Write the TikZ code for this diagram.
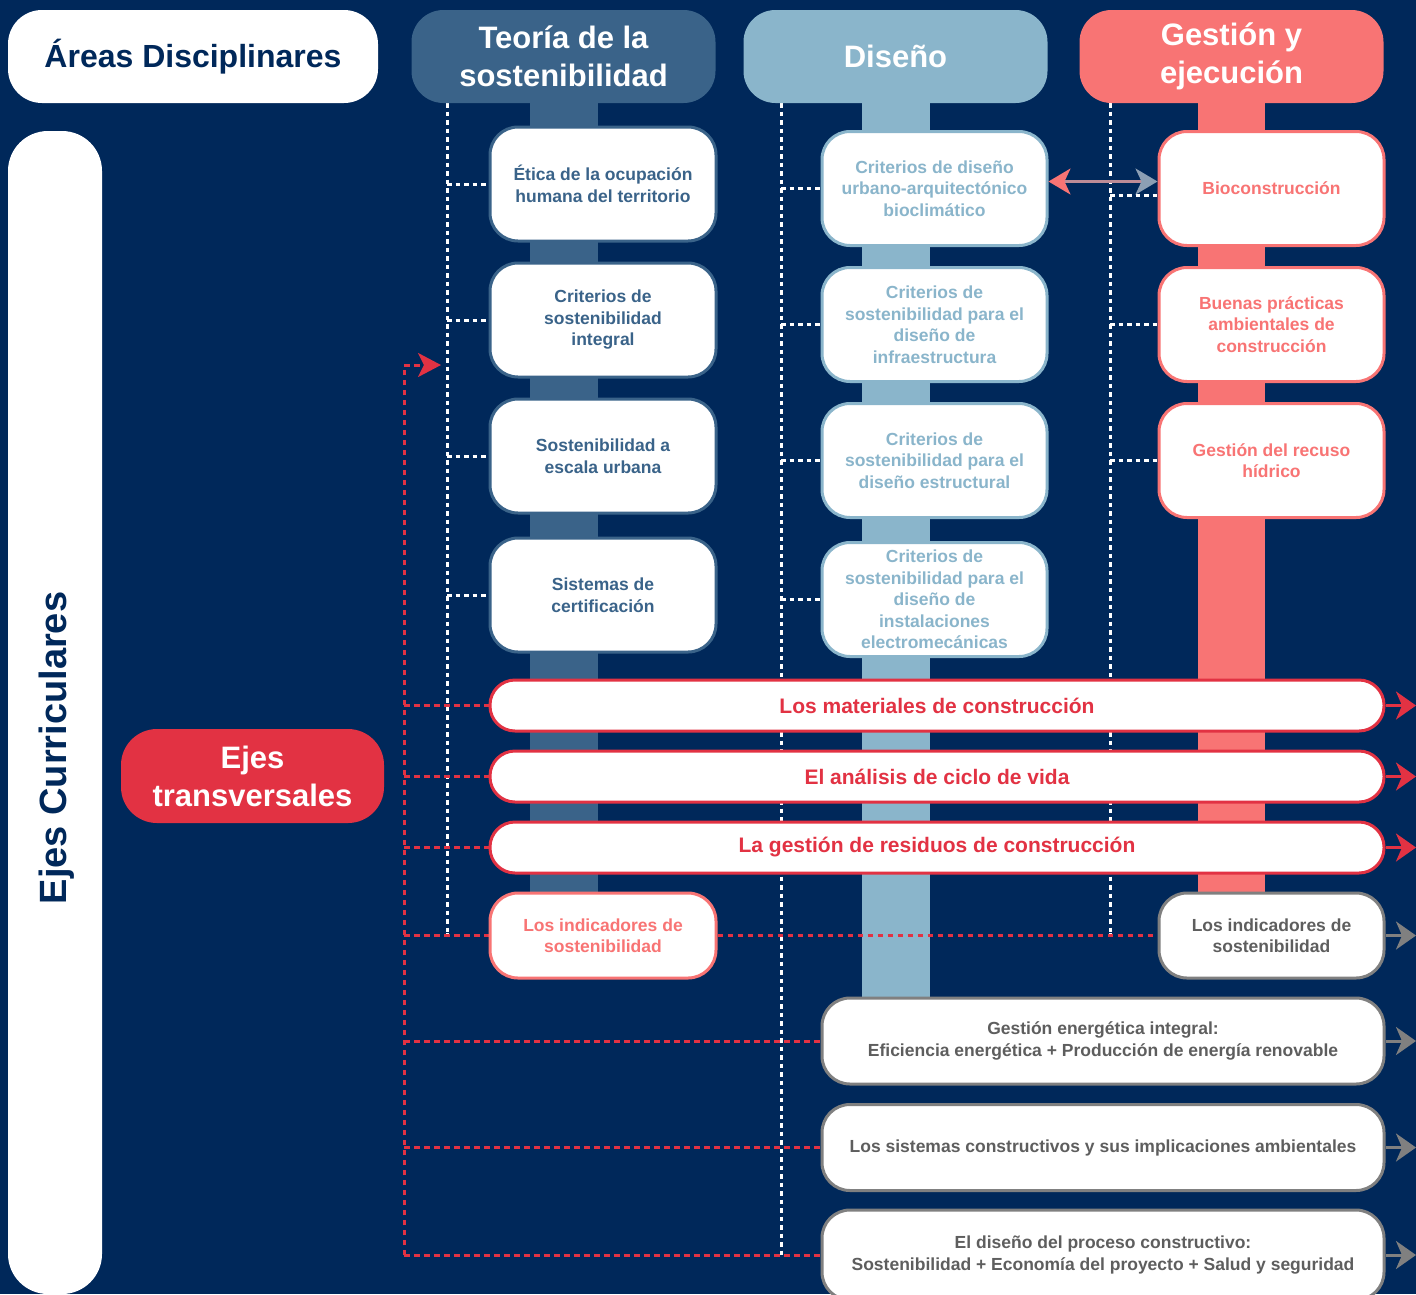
\documentclass[tikz,border=0pt]{standalone}
\usepackage{fontspec}
\setmainfont{Liberation Sans}
\usetikzlibrary{arrows.meta}

\definecolor{navy}{HTML}{00285A}
\definecolor{teocol}{HTML}{3A6389}
\definecolor{discol}{HTML}{8AB5CB}
\definecolor{gescol}{HTML}{F87474}
\definecolor{transred}{HTML}{E23243}
\definecolor{grisbox}{HTML}{808080}
\definecolor{gristxt}{HTML}{5E5E5E}
\definecolor{arrowblue}{HTML}{8C9FB4}

\pgfdeclarelayer{bg}
\pgfsetlayers{bg,main}

\tikzset{
  header/.style={rounded corners=32pt, minimum width=304pt, minimum height=93pt, align=center,
    text=white, font=\fontsize{31}{38}\selectfont\bfseries},
  card/.style={draw, line width=3pt, fill=white, rounded corners=28pt, minimum width=225pt,
    minimum height=114pt, inner sep=2pt, align=center, font=\fontsize{17.5}{21.5}\selectfont\bfseries},
  bar/.style={draw=transred, line width=3pt, fill=white, rounded corners=25pt, minimum width=894pt,
    minimum height=51pt, text=transred, font=\fontsize{21}{25}\selectfont\bfseries},
  graybox/.style={card, draw=grisbox, text=gristxt, minimum width=562pt, minimum height=86pt},
  dotline/.style={white, line width=3pt, dash pattern=on 4.5pt off 4pt},
  reddash/.style={transred, line width=3pt, dash pattern=on 5.5pt off 4.5pt},
  outarrow/.style={line width=3pt, -{Stealth[length=20pt,width=28pt,inset=6pt]}},
}

\begin{document}
\begin{tikzpicture}[x=1pt, y=-1pt]
\useasboundingbox (0,0) rectangle (1416,1294);

% Areas and headers
\node[fill=white, rounded corners=34pt, minimum width=370pt, minimum height=93pt, text=navy,
  font=\fontsize{32}{38}\selectfont\bfseries] (areas) at (193,56.5) {Áreas Disciplinares};
\node[header, fill=teocol] (teo) at (563.5,56.5) {Teoría de la\\sostenibilidad};
\node[header, fill=discol] (dis) at (895.5,56.5) {Diseño};
\node[header, fill=gescol] (ges) at (1231.5,56.5) {Gestión y\\ejecución};

% Ejes
\node[fill=white, rounded corners=40pt, minimum width=94pt, minimum height=1163pt] (ejesbar) at (55,712.5) {};
\node[rotate=90, text=navy, font=\fontsize{38}{44}\selectfont\bfseries] (ejescur) at (57,748) {Ejes Curriculares};
\node[fill=transred, rounded corners=36pt, minimum width=263pt, minimum height=94pt, text=white,
  align=center, font=\fontsize{31}{38}\selectfont\bfseries] (ejestr) at (252.5,776) {Ejes\\transversales};

% Teoria column
\foreach \n/\y/\txt in {t1/184/{Ética de la ocupación\\humana del territorio},
    t2/320/{Criterios de\\sostenibilidad\\integral},
    t3/456/{Sostenibilidad a\\escala urbana},
    t4/595/{Sistemas de\\certificación}}
  \node[card, draw=teocol, text=teocol, minimum width=226pt] (\n) at (603,\y) {\txt};

% Diseno column
\foreach \n/\y/\txt in {d1/188.5/{Criterios de diseño\\urbano-arquitectónico\\bioclimático},
    d2/324.5/{Criterios de\\sostenibilidad para el\\diseño de\\infraestructura},
    d3/460.5/{Criterios de\\sostenibilidad para el\\diseño estructural},
    d4/599.5/{Criterios de\\sostenibilidad para el\\diseño de\\instalaciones\\electromecánicas}}
  \node[card, draw=discol, text=discol] (\n) at (934.5,\y) {\txt};

% Gestion column
\foreach \n/\y/\txt in {g1/188.5/{Bioconstrucción},
    g2/324.5/{Buenas prácticas\\ambientales de\\construcción},
    g3/460.5/{Gestión del recuso\\hídrico}}
  \node[card, draw=gescol, text=gescol] (\n) at (1271.5,\y) {\txt};

% Transversal bars
\node[bar] (b1) at (937,705.5) {Los materiales de construcción};
\node[bar] (b2) at (937,776.5) {El análisis de ciclo de vida};
\node[bar] (b3) at (937,847.5) {La gestión de residuos de construcción};

% Indicators and lower boxes
\node[card, draw=gescol, text=gescol, minimum width=226pt, minimum height=85pt] (il) at (603,935.5) {Los indicadores de\\sostenibilidad};
\node[card, draw=grisbox, text=gristxt, minimum height=85pt] (ir) at (1271.5,935.5) {Los indicadores de\\sostenibilidad};
\node[graybox] (gb1) at (1103,1041) {Gestión energética integral:\\Eficiencia energética + Producción de energía renovable};
\node[graybox] (gb2) at (1103,1147.5) {Los sistemas constructivos y sus implicaciones ambientales};
\node[graybox, minimum height=90pt] (gb3) at (1103,1255) {El diseño del proceso constructivo:\\Sostenibilidad + Economía del proyecto + Salud y seguridad};

\coordinate (teotop) at (447,103);
\coordinate (distop) at (781,103);
\coordinate (gestop) at (1110,103);
\coordinate (rtop) at (404,365);
\coordinate (rtip) at (441,365);
\coordinate (redge) at (1416,0);

\begin{pgfonlayer}{bg}
% Background and stems
\fill[navy] (0,0) rectangle (1416,1294);
\fill[teocol] (530,100) rectangle (598,893);
\fill[discol] (862,100) rectangle (930,998);
\fill[gescol] (1198,100) rectangle (1265,893);

% Dotted trunks
\draw[dotline] (teotop) -- (teotop |- il.east) -- ++(0,-3);
\draw[dotline] (distop) -- (distop |- gb3.west);
\draw[dotline] (gestop) -- (gestop |- ir.west) -- ++(0,-3);
\foreach \n in {t1,t2,t3,t4}
  \draw[dotline] (\n.west -| teotop) -- (\n.west);
\foreach \n in {d1,d2,d3,d4}
  \draw[dotline] (\n.west -| distop) -- (\n.west);
\foreach \n in {g2,g3}
  \draw[dotline] (\n.west -| gestop) -- (\n.west);
\draw[dotline] ([yshift=-7pt]g1.west -| gestop) -- ([yshift=-7pt]g1.west);

% Red dashed links
\draw[reddash, -{Stealth[length=23pt,width=24pt,inset=6pt]}] (gb3.west -| rtop) -- (rtop) -- (rtip);
\foreach \n in {b1,b2,b3,il,gb1,gb2,gb3}
  \draw[reddash] (\n.west -| rtop) -- (\n.west);
\draw[reddash] (il.east) -- (ir.west);
\end{pgfonlayer}

% Arrows
\draw[line width=2.5pt, gescol!45!arrowblue,
  {Stealth[length=22pt,width=26pt,inset=6pt,color=gescol]}-{Stealth[length=22pt,width=26pt,inset=6pt,color=arrowblue]}]
  ([yshift=7pt]d1.east) -- ([yshift=7pt]g1.west);
\foreach \n in {b1,b2,b3}
  \draw[outarrow, transred] (\n.east) -- (\n.east -| redge);
\foreach \n in {ir,gb1,gb2,gb3}
  \draw[outarrow, grisbox] (\n.east) -- (\n.east -| redge);

\end{tikzpicture}
\end{document}
